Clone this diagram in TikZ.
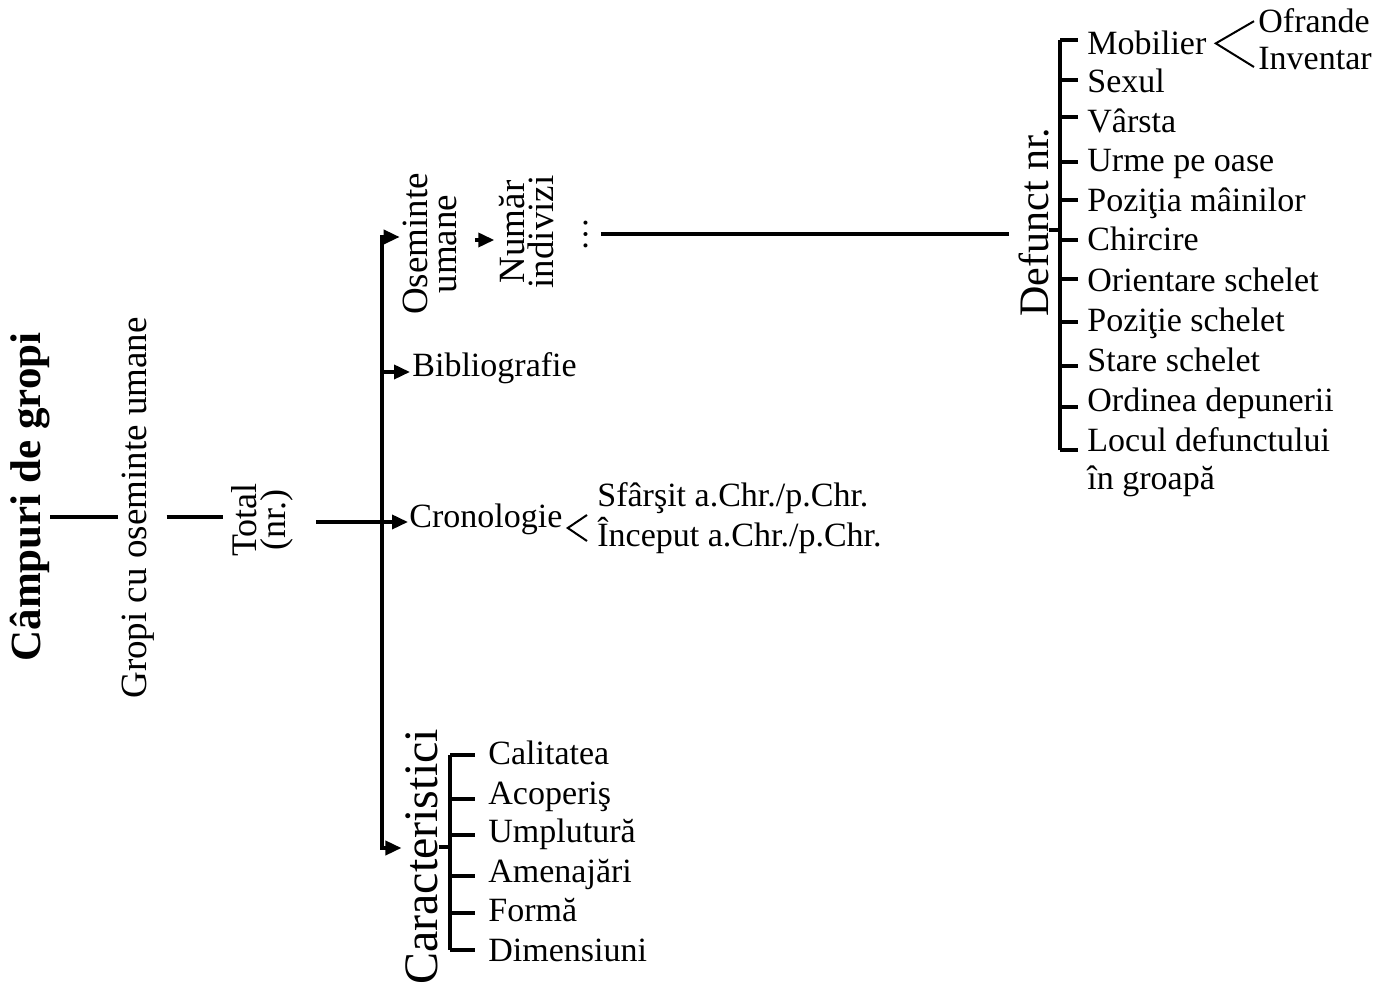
\documentclass[tikz,border=0pt]{standalone}
\usepackage{fontspec}
\setmainfont{Liberation Serif}
\usetikzlibrary{arrows.meta}
\begin{document}
\begin{tikzpicture}[x=0.5pt,y=-0.5pt,
  line/.style={line width=1.8pt},
  chev/.style={line width=1pt, line join=miter},
  arr/.style={line, -{Triangle[length=8pt,width=7pt]}},
  lbl/.style={inner sep=0pt, font=\fontsize{17}{20}\selectfont},
  vlbl/.style={inner sep=0pt, rotate=90, align=center, font=\fontsize{18.5}{14.5}\selectfont},
  itm/.style={lbl, anchor=base west},
]
\useasboundingbox (0,0) rectangle (1378,988);

% ---- left chain: title, group, total
\node[inner sep=0pt, rotate=90, font=\bfseries\fontsize{21.5}{24}\selectfont] (title) at (30,497) {Câmpuri de gropi};
\node[vlbl] (gropi) at (138,508) {Gropi cu oseminte umane};
\node[vlbl, font=\fontsize{18}{14.5}\selectfont] (total) at (262,520) {Total\\(nr.)};
\draw[line, shorten >=1.5pt] (title.south |- 0,517) -- (gropi.north |- 0,517);
\draw[line, shorten <=6pt, shorten >=4pt] (gropi.south |- 0,517) -- (total.north |- 0,517);

% ---- second level
\node[vlbl] (osem) at (430,244) {Oseminte\\umane};
\node[vlbl] (numar) at (527,232) {Număr\\indivizi};
\node[lbl, rotate=90, anchor=base] (dots) at (587,235) {\dots};
\node[itm] (biblio) at (412,377) {Bibliografie};
\node[itm] (crono) at (409,528) {Cronologie};
\node[vlbl, font=\fontsize{24}{24}\selectfont] (cara) at (422,857) {Caracteristici};

\coordinate (spinetop) at (382,237);
\coordinate (spinebot) at (382,848);
\draw[line, {Triangle[length=8pt,width=7pt]}-{Triangle[length=8pt,width=7pt]}, shorten <=1.5pt, shorten >=2pt]
  (osem.north |- spinetop) -- (spinetop) -- (spinebot) -- (cara.north |- spinebot);
\draw[arr, shorten >=1pt] (spinetop |- 0,372) -- (biblio.west |- 0,372);
\draw[arr, shorten <=11.5pt, shorten >=0.5pt] (total.south |- 0,522) -- (crono.west |- 0,522);
\draw[arr, shorten <=9pt, shorten >=2.5pt] (osem.south |- 0,240) -- (numar.north |- 0,240);

% ---- chronology split
\node[itm] (sf) at (597,507) {Sfârşit a.Chr./p.Chr.};
\node[itm] (inc) at (597,547) {Început a.Chr./p.Chr.};
\coordinate (cv) at ([xshift=2.5pt]crono.base east);
\draw[chev] ([xshift=-5pt,yshift=-4pt]sf.base west) -- (cv) -- ([xshift=-5pt,yshift=3pt]inc.base west);

% ---- features list
\foreach \n/\t/\b/\k in {c1/Calitatea/765/755, c2/Acoperiş/805/799, c3/Umplutură/843/835,
    c4/Amenajări/883/876, c5/Formă/922/913, c6/Dimensiuni/962/950} {
  \node[itm] (\n) at (488,\b) {\t};
  \draw[line, shorten >=6.5pt] (450,\k) -- (\n.west |- 0,\k);
}
\draw[line] (450,755) -- (450,950);
\draw[line] (cara.south |- 0,847) -- (450,847);

% ---- deceased
\node[vlbl, font=\fontsize{21}{21}\selectfont] (defunct) at (1034,222) {Defunct nr.};
\draw[line, shorten <=6.5pt, shorten >=5pt] (dots.south |- 0,234) -- (defunct.north |- 0,234);
\draw[line] (defunct.south |- 0,230) -- (1060,230);
\foreach \n/\t/\b/\k in {d1/Mobilier/55/40, d2/Sexul/93/80, d3/Vârsta/133/117,
    d4/Urme pe oase/172/162, d5/Poziţia mâinilor/212/200, d6/Chircire/251/240,
    d7/Orientare schelet/292/279, d8/Poziţie schelet/332/322, d9/Stare schelet/372/366,
    d10/Ordinea depunerii/412/407, d11/Locul defunctului/452/450} {
  \node[itm] (\n) at (1087,\b) {\t};
  \draw[line, shorten >=4.5pt] (1060,\k) -- (\n.west |- 0,\k);
}
\node[itm] (d11b) at (1087,490) {în groapă};
\draw[line] (1060,40) -- (1060,450);

% ---- grave goods split
\node[itm] (ofr) at (1258,33) {Ofrande};
\node[itm] (inv) at (1258,70) {Inventar};
\coordinate (mv) at ([xshift=4.5pt]d1.east);
\draw[chev] ([xshift=-2pt]ofr.west) -- (mv) -- ([xshift=-2pt,yshift=1.5pt]inv.base west);
\end{tikzpicture}
\end{document}
